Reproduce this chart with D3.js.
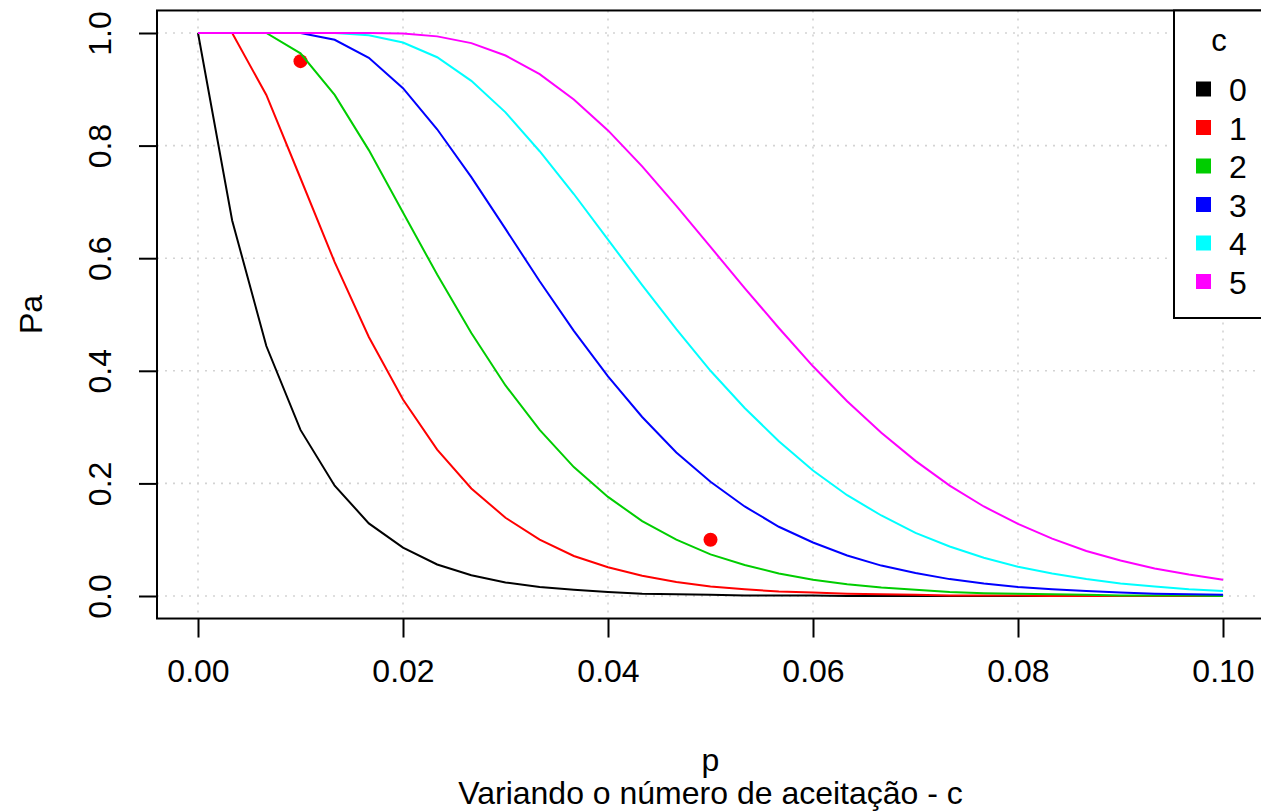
<!DOCTYPE html>
<html>
<head>
<meta charset="utf-8">
<script src="https://cdn.jsdelivr.net/npm/d3@7"></script>
<style>
  body { margin: 0; background: #fff; }
  text { font-family: "Liberation Sans", Arial, sans-serif; fill: #000; }
</style>
</head>
<body>
<div id="chart"></div>
<script>
// fraction defective, p = D/300
var pValues = d3.range(31).map(function (k) { return k / 300; });

var seriesNames = ["0", "1", "2", "3", "4", "5"];
var seriesColors = ["#000000", "#ff0000", "#00cd00", "#0000ff", "#00ffff", "#ff00ff"];

var pa0 = [1, 0.667, 0.444, 0.295, 0.196, 0.129, 0.086, 0.056, 0.037, 0.024, 0.016, 0.011, 0.007, 0.004, 0.003, 0.002, 0.001, 0.001, 0.001, 0, 0, 0, 0, 0, 0, 0, 0, 0, 0, 0, 0];
var pa1 = [1, 1, 0.890, 0.742, 0.593, 0.460, 0.349, 0.260, 0.191, 0.139, 0.100, 0.071, 0.051, 0.036, 0.025, 0.017, 0.012, 0.008, 0.006, 0.004, 0.003, 0.002, 0.001, 0.001, 0.001, 0, 0, 0, 0, 0, 0];
var pa2 = [1, 1, 1, 0.964, 0.890, 0.792, 0.681, 0.571, 0.467, 0.374, 0.295, 0.229, 0.176, 0.133, 0.100, 0.074, 0.055, 0.040, 0.029, 0.021, 0.015, 0.011, 0.007, 0.005, 0.004, 0.003, 0.002, 0.001, 0.001, 0.001, 0];
var pa3 = [1, 1, 1, 1, 0.988, 0.956, 0.902, 0.829, 0.744, 0.652, 0.559, 0.471, 0.390, 0.318, 0.255, 0.203, 0.159, 0.123, 0.095, 0.072, 0.054, 0.041, 0.030, 0.022, 0.016, 0.012, 0.009, 0.006, 0.004, 0.003, 0.002];
var pa4 = [1, 1, 1, 1, 1, 0.996, 0.983, 0.957, 0.915, 0.859, 0.790, 0.714, 0.633, 0.552, 0.474, 0.400, 0.334, 0.275, 0.223, 0.179, 0.143, 0.112, 0.088, 0.068, 0.052, 0.040, 0.030, 0.022, 0.017, 0.012, 0.009];
var pa5 = [1, 1, 1, 1, 1, 1, 0.999, 0.994, 0.982, 0.960, 0.927, 0.882, 0.827, 0.763, 0.693, 0.620, 0.547, 0.476, 0.408, 0.346, 0.290, 0.240, 0.196, 0.159, 0.128, 0.102, 0.080, 0.063, 0.049, 0.038, 0.029];
var allSeries = [pa0, pa1, pa2, pa3, pa4, pa5];

// the two plan points (p, Pa)
var planPoints = [[0.01, 0.95], [0.05, 0.10]];

var xTicks = [0, 0.02, 0.04, 0.06, 0.08, 0.10];
var yTicks = [0, 0.2, 0.4, 0.6, 0.8, 1.0];

var width = 1261, height = 812;
var svg = d3.select("#chart").append("svg")
    .attr("width", width)
    .attr("height", height);

var x = d3.scaleLinear().domain([0, 0.1]).range([198, 1223]);
var y = d3.scaleLinear().domain([0, 1]).range([596, 33]);

// plot region is 4% wider than the data, like R
var plotL = x(-0.004), plotR = x(0.104), plotT = y(1.04), plotB = y(-0.04);

// grid
svg.append("g").selectAll("line").data(xTicks).enter().append("line")
    .attr("x1", function (d) { return x(d); }).attr("x2", function (d) { return x(d); })
    .attr("y1", plotT).attr("y2", plotB)
    .attr("stroke", "#d3d3d3").attr("stroke-width", 1.6).attr("stroke-dasharray", "2,6");
svg.append("g").selectAll("line").data(yTicks).enter().append("line")
    .attr("y1", function (d) { return y(d); }).attr("y2", function (d) { return y(d); })
    .attr("x1", plotL).attr("x2", plotR)
    .attr("stroke", "#d3d3d3").attr("stroke-width", 1.6).attr("stroke-dasharray", "2,6");

// points
svg.append("g").selectAll("circle").data(planPoints).enter().append("circle")
    .attr("cx", function (d) { return x(d[0]); })
    .attr("cy", function (d) { return y(d[1]); })
    .attr("r", 7)
    .attr("fill", "#ff0000");

// curves
var line = d3.line()
    .x(function (d, i) { return x(pValues[i]); })
    .y(function (d) { return y(d); });

allSeries.forEach(function (s, i) {
    svg.append("path")
        .attr("d", line(s))
        .attr("fill", "none")
        .attr("stroke", seriesColors[i])
        .attr("stroke-width", 2);
});

// box
svg.append("rect")
    .attr("x", plotL).attr("y", plotT)
    .attr("width", plotR - plotL).attr("height", plotB - plotT)
    .attr("fill", "none").attr("stroke", "#000").attr("stroke-width", 2);

// axes
var xAxis = d3.axisBottom(x).tickValues(xTicks).tickFormat(d3.format(".2f"))
    .tickSize(19).tickPadding(22);
var gx = svg.append("g").attr("transform", "translate(0," + plotB + ")").call(xAxis);
gx.select(".domain").remove();
gx.selectAll("line").attr("stroke-width", 2);
gx.selectAll("text").style("font-size", "32px").attr("font-family", null);

var yAxis = d3.axisLeft(y).tickValues(yTicks).tickFormat(d3.format(".1f"))
    .tickSize(18);
var gy = svg.append("g").attr("transform", "translate(" + plotL + ",0)").call(yAxis);
gy.select(".domain").remove();
gy.selectAll("line").attr("stroke-width", 2);
gy.selectAll("text")
    .style("font-size", "32px").attr("font-family", null)
    .attr("x", null).attr("dy", null)
    .attr("text-anchor", "middle")
    .attr("transform", "translate(-46,0) rotate(-90)");

// axis titles
svg.append("text").attr("x", x(0.05)).attr("y", 771)
    .attr("text-anchor", "middle").style("font-size", "32px").text("p");
svg.append("text").attr("x", x(0.05)).attr("y", 804)
    .attr("text-anchor", "middle").style("font-size", "32px").text("Variando o número de aceitação - c");
svg.append("text")
    .attr("transform", "translate(42," + y(0.5) + ") rotate(-90)")
    .attr("text-anchor", "middle").style("font-size", "32px").text("Pa");

// legend
var lgX = 1174, lgY = plotT;
svg.append("rect")
    .attr("x", lgX).attr("y", lgY)
    .attr("width", plotR - lgX).attr("height", 318 - lgY)
    .attr("fill", "#fff").attr("stroke", "#000").attr("stroke-width", 2);
svg.append("text").attr("x", 1219).attr("y", 51)
    .attr("text-anchor", "middle").style("font-size", "31px").text("c");
var lg = svg.append("g").selectAll("g").data(seriesNames).enter().append("g")
    .attr("transform", function (d, i) { return "translate(0," + (89 + i * 38.5) + ")"; });
lg.append("rect").attr("x", 1196).attr("y", -7.5).attr("width", 15).attr("height", 15)
    .attr("fill", function (d, i) { return seriesColors[i]; });
lg.append("text").attr("x", 1229).attr("y", 12).style("font-size", "32px")
    .text(function (d) { return d; });
</script>
</body>
</html>
